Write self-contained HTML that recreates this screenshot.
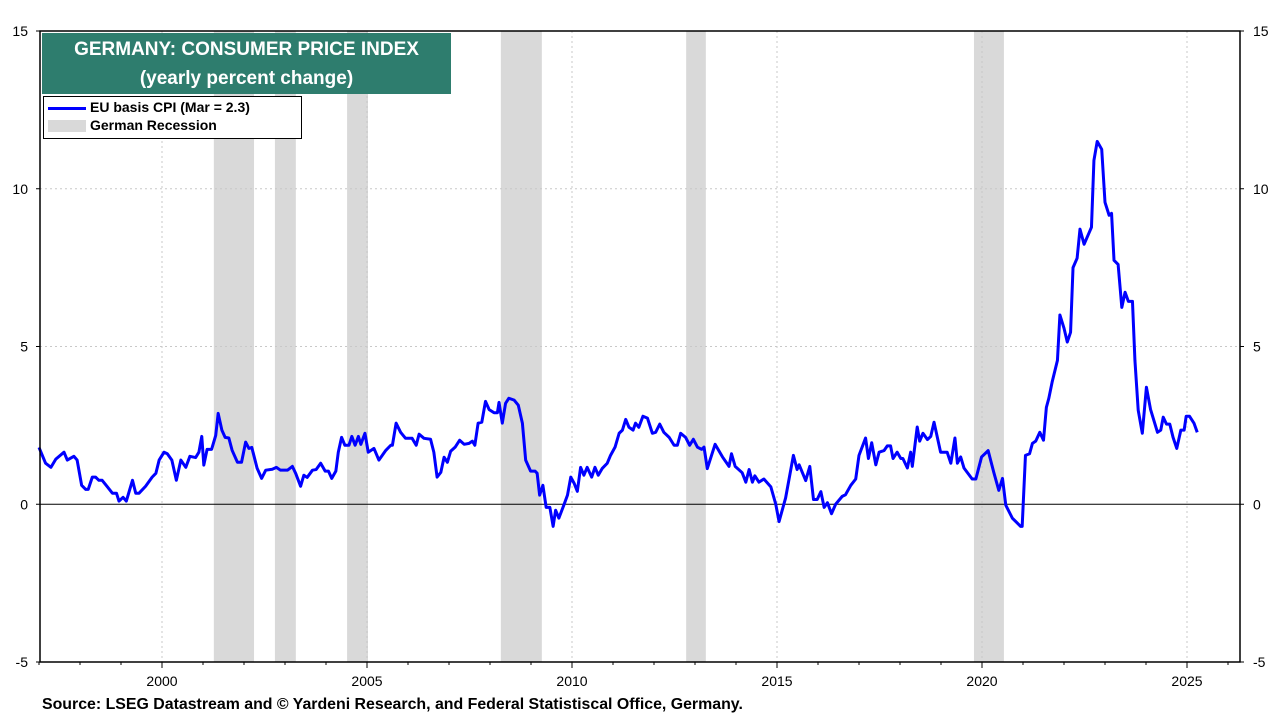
<!DOCTYPE html>
<html><head><meta charset="utf-8"><style>
body{margin:0;background:#fff;font-family:"Liberation Sans",sans-serif}
svg text{font-family:"Liberation Sans",sans-serif}
</style></head><body>
<svg id="c" width="1280" height="720" xmlns="http://www.w3.org/2000/svg"></svg>
<script>
const dates=[1997.00,1997.16,1997.29,1997.41,1997.61,1997.69,1997.85,1997.93,1998.04,1998.14,1998.20,1998.30,1998.38,1998.46,1998.54,1998.67,1998.79,1998.89,1998.95,1999.05,1999.13,1999.28,1999.36,1999.44,1999.60,1999.76,1999.85,1999.93,2000.05,2000.13,2000.24,2000.35,2000.46,2000.58,2000.68,2000.82,2000.90,2000.97,2001.02,2001.10,2001.21,2001.31,2001.37,2001.46,2001.54,2001.63,2001.71,2001.84,2001.94,2002.04,2002.12,2002.19,2002.32,2002.43,2002.53,2002.69,2002.79,2002.89,2003.06,2003.18,2003.26,2003.38,2003.46,2003.54,2003.67,2003.76,2003.87,2003.98,2004.06,2004.14,2004.24,2004.30,2004.38,2004.46,2004.56,2004.63,2004.71,2004.79,2004.85,2004.95,2005.03,2005.17,2005.29,2005.46,2005.58,2005.62,2005.71,2005.82,2005.94,2006.10,2006.20,2006.27,2006.39,2006.55,2006.63,2006.71,2006.80,2006.88,2006.96,2007.04,2007.15,2007.26,2007.37,2007.49,2007.57,2007.63,2007.71,2007.80,2007.89,2007.98,2008.10,2008.18,2008.22,2008.30,2008.38,2008.46,2008.59,2008.69,2008.79,2008.87,2008.99,2009.10,2009.15,2009.21,2009.29,2009.37,2009.46,2009.54,2009.60,2009.68,2009.80,2009.89,2009.97,2010.05,2010.13,2010.21,2010.29,2010.37,2010.48,2010.56,2010.64,2010.74,2010.86,2010.94,2011.05,2011.15,2011.23,2011.31,2011.39,2011.49,2011.55,2011.63,2011.73,2011.84,2011.96,2012.04,2012.14,2012.24,2012.37,2012.49,2012.57,2012.65,2012.77,2012.87,2012.96,2013.06,2013.16,2013.22,2013.30,2013.49,2013.67,2013.83,2013.89,2013.98,2014.15,2014.24,2014.32,2014.40,2014.46,2014.56,2014.68,2014.85,2014.97,2015.05,2015.21,2015.40,2015.49,2015.54,2015.70,2015.80,2015.89,2015.98,2016.07,2016.15,2016.23,2016.33,2016.43,2016.59,2016.67,2016.80,2016.92,2017.00,2017.16,2017.23,2017.31,2017.41,2017.49,2017.61,2017.69,2017.77,2017.83,2017.93,2018.02,2018.07,2018.18,2018.26,2018.30,2018.42,2018.48,2018.56,2018.67,2018.75,2018.83,2018.99,2019.15,2019.24,2019.34,2019.40,2019.48,2019.56,2019.76,2019.85,2019.99,2020.15,2020.29,2020.41,2020.50,2020.58,2020.74,2020.94,2020.98,2021.06,2021.16,2021.23,2021.31,2021.41,2021.50,2021.57,2021.63,2021.71,2021.84,2021.90,2022.00,2022.08,2022.16,2022.22,2022.32,2022.39,2022.49,2022.61,2022.67,2022.73,2022.81,2022.92,2023.00,2023.10,2023.16,2023.22,2023.32,2023.41,2023.49,2023.57,2023.67,2023.73,2023.81,2023.91,2024.01,2024.11,2024.28,2024.36,2024.42,2024.50,2024.58,2024.66,2024.75,2024.85,2024.93,2024.98,2025.06,2025.17,2025.25];
const cpi=[1.8,1.3,1.17,1.43,1.65,1.4,1.52,1.4,0.6,0.47,0.47,0.86,0.86,0.76,0.76,0.55,0.35,0.35,0.1,0.22,0.1,0.76,0.35,0.35,0.57,0.86,0.98,1.4,1.65,1.6,1.4,0.76,1.4,1.17,1.52,1.48,1.65,2.15,1.24,1.74,1.74,2.18,2.88,2.35,2.12,2.1,1.71,1.33,1.33,1.97,1.77,1.8,1.14,0.82,1.08,1.11,1.17,1.08,1.08,1.2,0.98,0.57,0.92,0.85,1.08,1.1,1.3,1.05,1.05,0.82,1.05,1.65,2.12,1.87,1.87,2.15,1.87,2.15,1.9,2.25,1.65,1.77,1.4,1.71,1.87,1.87,2.57,2.28,2.09,2.09,1.87,2.22,2.09,2.06,1.65,0.86,1.01,1.49,1.33,1.68,1.81,2.03,1.9,1.93,2.0,1.87,2.57,2.6,3.26,3.0,2.9,2.9,3.23,2.57,3.2,3.36,3.3,3.14,2.57,1.4,1.05,1.05,0.98,0.29,0.6,-0.1,-0.1,-0.7,-0.19,-0.44,-0.03,0.29,0.86,0.67,0.41,1.17,0.92,1.17,0.86,1.17,0.92,1.14,1.3,1.55,1.81,2.25,2.35,2.69,2.44,2.35,2.57,2.44,2.79,2.73,2.25,2.28,2.54,2.28,2.12,1.87,1.87,2.25,2.12,1.87,2.06,1.81,1.74,1.81,1.13,1.9,1.5,1.2,1.6,1.2,1.0,0.7,1.1,0.7,0.9,0.7,0.8,0.55,0.0,-0.55,0.2,1.55,1.1,1.25,0.75,1.2,0.15,0.15,0.4,-0.1,0.05,-0.3,0.0,0.25,0.3,0.6,0.8,1.55,2.1,1.45,1.95,1.25,1.65,1.7,1.85,1.85,1.45,1.65,1.45,1.45,1.15,1.65,1.2,2.45,2.0,2.25,2.05,2.15,2.6,1.65,1.65,1.3,2.1,1.3,1.5,1.15,0.8,0.8,1.5,1.7,1.0,0.44,0.82,-0.03,-0.44,-0.7,-0.7,1.55,1.6,1.93,2.0,2.28,2.03,3.07,3.36,3.87,4.56,6.0,5.58,5.14,5.45,7.5,7.8,8.72,8.24,8.6,8.78,10.9,11.5,11.25,9.57,9.16,9.22,7.73,7.6,6.24,6.72,6.43,6.43,4.56,2.98,2.25,3.71,3.01,2.28,2.35,2.76,2.54,2.54,2.12,1.77,2.35,2.35,2.79,2.79,2.57,2.28];
const recStart=[2001.24,2002.73,2004.49,2008.24,2012.76,2019.78];
const recEnd=[2002.22,2003.24,2005.00,2009.24,2013.24,2020.51];
const yTicks=[15,10,5,0,-5];
const xTicks=[2000,2005,2010,2015,2020,2025];

const L=40,R=1240,T=31,B=662;
const X=y=>162+(y-2000)*41;
const Y=v=>T+(15-v)*(B-T)/20;
const svg=document.getElementById('c');
const NS='http://www.w3.org/2000/svg';
function mk(tag,a,p){const e=document.createElementNS(NS,tag);for(const k in a)e.setAttribute(k,a[k]);(p||svg).appendChild(e);return e;}

recStart.forEach((s,i)=>{
  const r=mk('rect',{x:X(s)+1,y:T,width:X(recEnd[i])-X(s),height:B-T,fill:'#d9d9d9'});
  
  
});
yTicks.forEach(v=>{
  if(v!==15&&v!==-5&&v!==0){const g=mk('line',{x1:L,x2:R,y1:Y(v),y2:Y(v),stroke:'#c8c8c8','stroke-dasharray':'2,3'});
  }
  const t1=mk('text',{x:28,y:Y(v)+5,'text-anchor':'end','font-size':14});t1.textContent=v;
  
  const t2=mk('text',{x:1253,y:Y(v)+5,'font-size':14});t2.textContent=v;
  
  mk('line',{x1:L-4,x2:L,y1:Y(v),y2:Y(v),stroke:'#000'});
  mk('line',{x1:R,x2:R+4,y1:Y(v),y2:Y(v),stroke:'#000'});
});
xTicks.forEach(yr=>{
  const g=mk('line',{x1:X(yr),x2:X(yr),y1:T,y2:B,stroke:'#c8c8c8','stroke-dasharray':'2,3'});
  
  const t=mk('text',{x:X(yr),y:686,'text-anchor':'middle','font-size':14});t.textContent=yr;
  
});
for(let yr=1997;yr<=2026;yr++){mk('line',{x1:X(yr),x2:X(yr),y1:B,y2:B+(yr%5===0?6:3),stroke:'#000'});}
const z=mk('line',{x1:L,x2:R,y1:Y(0),y2:Y(0),stroke:'#000','stroke-width':1});

const pl=mk('polyline',{points:dates.map((d,i)=>X(d)+','+Y(cpi[i])).join(' '),fill:'none',stroke:'#0000ff','stroke-width':3,'stroke-linejoin':'round'});

const fr=mk('rect',{x:L,y:T,width:R-L,height:B-T,fill:'none',stroke:'#000','stroke-width':1.5});

</script>
<div style="position:absolute;left:42px;top:33px;width:409px;height:61px;background:#2e7d6e;color:#fff;font-weight:bold;font-size:19px;text-align:center;line-height:29px;padding-top:2px;box-sizing:border-box">GERMANY: CONSUMER PRICE INDEX<br>(yearly percent change)</div>
<div style="position:absolute;left:43px;top:96px;width:259px;height:43px;background:#fff;border:1.5px solid #000;box-sizing:border-box;font-size:14px;font-weight:bold">
<div style="position:absolute;left:4px;top:2px;white-space:nowrap"><span style="display:inline-block;width:38px;height:3px;background:#00f;vertical-align:middle;margin-right:4px"></span>EU basis CPI (Mar = 2.3)</div>
<div style="position:absolute;left:4px;top:20px;white-space:nowrap"><span style="display:inline-block;width:38px;height:12px;background:#d9d9d9;vertical-align:middle;margin-right:4px"></span>German Recession</div>
</div>
<div style="position:absolute;left:42px;top:696px;font-size:15.9px;font-weight:bold">Source: LSEG Datastream and © Yardeni Research, and Federal Statistiscal Office, Germany.</div>
</body></html>
